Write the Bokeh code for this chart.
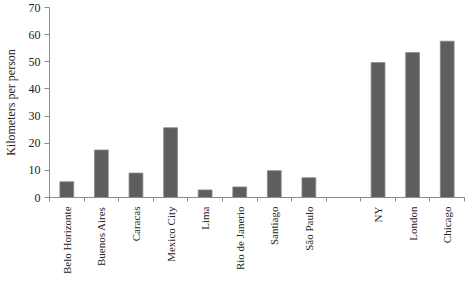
import math
from bokeh.plotting import figure
from bokeh.models import ColumnDataSource, FixedTicker, CustomJSTickFormatter, Range1d
from bokeh.embed import file_html
from bokeh.resources import INLINE

cities = ["Belo Horizonte", "Buenos Aires", "Caracas", "Mexico City", "Lima",
          "Rio de Janerio", "Santiago", "São Paulo", "", "NY", "London", "Chicago"]
km_per_person = [5.8, 17.5, 9.0, 25.7, 2.8, 3.9, 9.9, 7.3, 0.0, 49.7, 53.4, 57.6]
y_ticks = [0, 10, 20, 30, 40, 50, 60, 70]

positions = [i + 0.5 for i in range(len(cities))]
src = ColumnDataSource(dict(x=positions, top=km_per_person, name=cities))

FONT = "Liberation Serif"

p = figure(width=465, height=277, output_backend="svg", toolbar_location=None,
           x_range=Range1d(0, len(cities)), y_range=Range1d(0, 70),
           min_border_left=40, min_border_right=1, min_border_top=7, min_border_bottom=40)
p.outline_line_color = None
p.xgrid.visible = False
p.ygrid.visible = False

p.vbar(x="x", top="top", width=0.4, source=src, fill_color="#5e5e5e",
       line_color="#8a8a8a", line_width=0.8)

# x axis
xa = p.xaxis[0]
xa.ticker = FixedTicker(ticks=positions, minor_ticks=list(range(len(cities) + 1)))
xa.formatter = CustomJSTickFormatter(args=dict(labels=cities),
                                     code="return labels[Math.floor(tick)];")
xa.major_label_orientation = math.pi / 2
xa.major_tick_line_color = None
xa.major_tick_out = 0
xa.major_tick_in = 0
xa.minor_tick_line_color = "#8c8c8c"
xa.minor_tick_out = 4
xa.minor_tick_in = 0
xa.axis_line_color = "#8c8c8c"
xa.major_label_text_font = FONT
xa.major_label_text_font_size = "11px"
xa.major_label_text_color = "#222222"
xa.major_label_standoff = 5

# y axis
ya = p.yaxis[0]
ya.ticker = FixedTicker(ticks=y_ticks)
ya.minor_tick_line_color = None
ya.major_tick_line_color = "#8c8c8c"
ya.major_tick_out = 5
ya.major_tick_in = 0
ya.axis_line_color = "#8c8c8c"
ya.major_label_text_font = FONT
ya.major_label_text_font_size = "12px"
ya.major_label_text_color = "#222222"
ya.major_label_standoff = 4
ya.axis_label = "Kilometers per person"
ya.axis_label_text_font = FONT
ya.axis_label_text_font_size = "12px"
ya.axis_label_text_font_style = "normal"
ya.axis_label_text_color = "#222222"
ya.axis_label_standoff = 8

open("out.html", "w").write(file_html(p, INLINE))
